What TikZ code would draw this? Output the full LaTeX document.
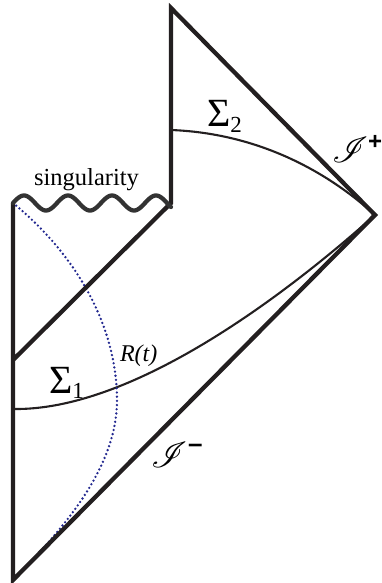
\documentclass[tikz,border=0pt]{standalone}
\usepackage{fontspec}
\setmainfont{Liberation Serif}
\setsansfont{Liberation Sans}
\usepackage{mathrsfs}
\usepackage{graphicx}
\definecolor{ink}{HTML}{231F20}
\definecolor{wavec}{HTML}{333333}
\definecolor{dotblue}{HTML}{22288F}
\tikzset{
  bound/.style={draw=ink, line width=4.3pt, line join=miter},
  slice/.style={draw=ink, line width=2.1pt},
  rcurve/.style={draw=dotblue, line width=2.6pt, dash pattern=on 0pt off 4.2pt, line cap=round},
  lbl/.style={inner sep=0pt, outer sep=0pt, anchor=base west}
}
\newcommand{\scri}{\fontsize{24.88}{24.88}\selectfont\scalebox{1.45}{$\mathscr{I}$}}
\begin{document}
\begin{tikzpicture}[x=1pt,y=-1pt]
\useasboundingbox (0,0) rectangle (382,583);
\coordinate (B) at (13,580);
\coordinate (R) at (375,215);
\coordinate (T) at (171,8);
\coordinate (S) at (171,203);
\coordinate (L) at (13,203);
\coordinate (H) at (13,360);
\coordinate (A2) at (171,130);
\coordinate (A1) at (13,409);
\coordinate (M) at (117,400);
% slices
\draw[slice] (A1) .. controls (130,411) and (280,300) .. (R);
\draw[slice] (A2) .. controls (250,133) and (320,165) .. (R);
% R(t)
\draw[rcurve] (L) .. controls (80,258) and (117,330) .. (M) .. controls (117,470) and (60,532) .. (B);
% boundary
\draw[bound] (L) -- (B) -- (R) -- (T) -- (S) -- (H);
% singularity
\draw[draw=wavec, line width=4.3pt, line cap=round, domain=0:3.5909, samples=120, smooth, variable=\t]
  plot ({13+44*\t}, {203 - 7.5*sin(\t*360)});
% labels
\node[lbl, font=\fontsize{24.5}{24}\selectfont, anchor=base] (sing) at (86.5,185) {singularity};
\node[lbl] (s2) at (207,126) {\fontsize{40}{40}\selectfont Σ\raisebox{-6pt}{\fontsize{23}{23}\selectfont 2}};
\node[lbl] (s1) at (49,393) {\fontsize{40}{40}\selectfont Σ\raisebox{-5pt}{\fontsize{23}{23}\selectfont 1}};
\node[lbl] (rt) at (120,361) {\fontsize{24}{24}\selectfont\itshape R(t)};
\node[lbl] (scp) at (332,162) {\scri\raisebox{13pt}{\fontsize{24}{24}\selectfont\sffamily\bfseries +}};
\node[lbl] (scm) at (151,467) {\scri\hspace{1pt}\raisebox{15pt}{\fontsize{26}{26}\selectfont\sffamily\bfseries –}};
\end{tikzpicture}
\end{document}
